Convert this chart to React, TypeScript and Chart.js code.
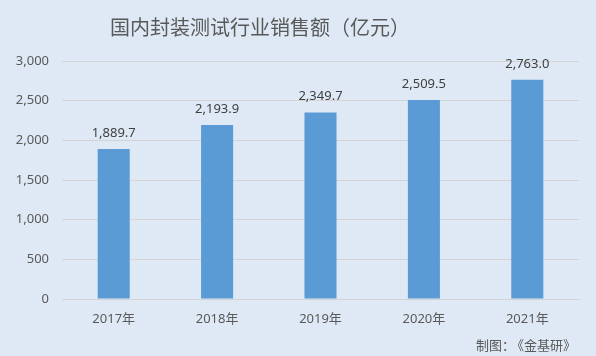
import React, { useEffect, useRef } from "react";
import { Chart, registerables } from "chart.js";

Chart.register(...registerables);

const categories = ["2017年", "2018年", "2019年", "2020年", "2021年"];
const sales = [1889.7, 2193.9, 2349.7, 2509.5, 2763.0];
const yTicks = [0, 500, 1000, 1500, 2000, 2500, 3000];
const titleText = "国内封装测试行业销售额（亿元）";
const footerLead = "制图：";
const footerSource = "《金基研》";

const BG = "#dfe9f5";
const FONT = "'Noto Sans', 'Noto Sans CJK SC', sans-serif";

const fmt = (v: number) =>
  v.toLocaleString("en-US", { minimumFractionDigits: 1, maximumFractionDigits: 1 });

export default function App() {
  const ref = useRef<HTMLCanvasElement | null>(null);
  useEffect(() => {
    if (!ref.current) return;
    const decor = {
      id: "decor",
      beforeDraw(chart: any) {
        const c = chart.ctx;
        c.save();
        c.fillStyle = BG;
        c.fillRect(0, 0, chart.width, chart.height);
        c.restore();
      },
      afterDraw(chart: any) {
        const c = chart.ctx;
        c.save();
        c.fillStyle = "#595959";
        c.font = `20px 'Noto Sans CJK SC', sans-serif`;
        c.textAlign = "left";
        c.textBaseline = "middle";
        c.fillText(titleText, 110, 27);
        c.font = `13px 'Noto Sans CJK SC', sans-serif`;
        c.fillText(footerLead, 476, 345);
        c.textAlign = "right";
        c.fillText(footerSource, 576, 345);
        // data labels
        const meta = chart.getDatasetMeta(0);
        c.fillStyle = "#404040";
        c.font = `13px ${FONT}`;
        c.textAlign = "center";
        meta.data.forEach((el: any, i: number) => {
          c.fillText(fmt(sales[i]), el.x, el.y - 16);
        });
        c.restore();
      },
    };
    const chart = new Chart(ref.current, {
      type: "bar",
      data: {
        labels: categories,
        datasets: [
          {
            data: sales,
            backgroundColor: "#5b9bd5",
            barPercentage: 0.31,
            categoryPercentage: 1,
          },
        ],
      },
      options: {
        animation: false,
        responsive: false,
        devicePixelRatio: 1,
        layout: { padding: { top: 61, right: 17, left: 0, bottom: 0 } },
        plugins: {
          legend: { display: false },
          title: { display: false },
          tooltip: { enabled: false },
        },
        scales: {
          x: {
            grid: { display: false, drawTicks: false },
            border: { display: true, color: "#d4d4d4" },
            ticks: { color: "#595959", font: { size: 13, family: FONT }, padding: 12 },
            afterFit(scale: any) {
              scale.height = 57;
            },
          },
          y: {
            min: 0,
            max: 3000,
            afterBuildTicks(scale: any) {
              scale.ticks = yTicks.map((v) => ({ value: v }));
            },
            grid: { color: "#d4d4d4", drawTicks: false },
            border: { display: false },
            ticks: {
              color: "#595959",
              font: { size: 13, family: FONT },
              padding: 13,
              callback: (v: any) => Number(v).toLocaleString("en-US"),
            },
            afterFit(scale: any) {
              scale.width = 62;
            },
          },
        },
      },
      plugins: [decor],
    });
    return () => chart.destroy();
  }, []);
  return (
    <div style={{ position: "fixed", left: 0, top: 0, width: 596, height: 356 }}>
      <canvas ref={ref} width={596} height={356} style={{ display: "block" }} />
    </div>
  );
}
